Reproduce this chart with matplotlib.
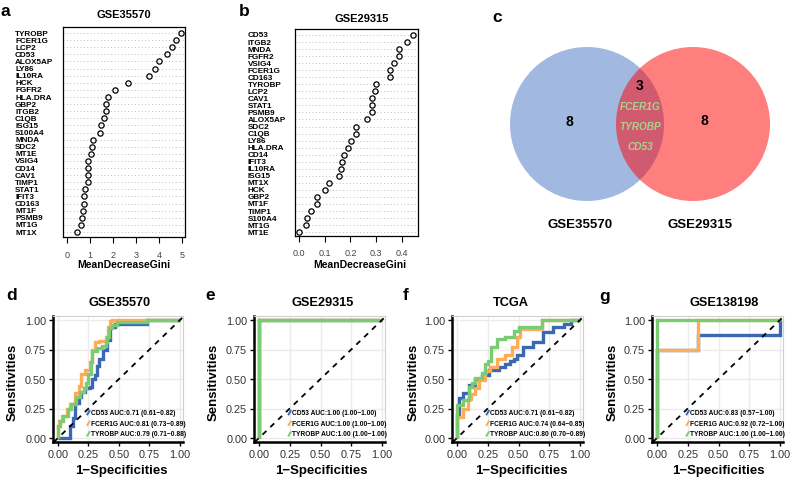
import matplotlib
matplotlib.use('Agg')
import matplotlib.pyplot as plt
from matplotlib.patches import Circle
from matplotlib.transforms import blended_transform_factory

plt.rcParams['font.family'] = ['Liberation Sans', 'DejaVu Sans']

# ---- data ----
genes_a = ['TYROBP', 'FCER1G', 'LCP2', 'CD53', 'ALOX5AP', 'LY86', 'IL10RA', 'HCK', 'FGFR2',
           'HLA.DRA', 'GBP2', 'ITGB2', 'C1QB', 'ISG15', 'S100A4', 'MNDA', 'SDC2', 'MT1E',
           'VSIG4', 'CD14', 'CAV1', 'TIMP1', 'STAT1', 'IFIT3', 'CD163', 'MT1F', 'PSMB9',
           'MT1G', 'MT1X']
gini_a = [4.97, 4.75, 4.56, 4.37, 4.01, 3.82, 3.58, 2.68, 2.10, 1.79, 1.70, 1.69, 1.62, 1.49,
          1.46, 1.13, 1.10, 1.04, 0.94, 0.94, 0.91, 0.91, 0.79, 0.77, 0.75, 0.72, 0.66, 0.64, 0.46]

genes_b = ['CD53', 'ITGB2', 'MNDA', 'FGFR2', 'VSIG4', 'FCER1G', 'CD163', 'TYROBP', 'LCP2',
           'CAV1', 'STAT1', 'PSMB9', 'ALOX5AP', 'SDC2', 'C1QB', 'LY86', 'HLA.DRA', 'CD14',
           'IFIT3', 'IL10RA', 'ISG15', 'MT1X', 'HCK', 'GBP2', 'MT1F', 'TIMP1', 'S100A4',
           'MT1G', 'MT1E']
gini_b = [0.445, 0.422, 0.389, 0.388, 0.371, 0.356, 0.353, 0.301, 0.294, 0.285, 0.285, 0.283,
          0.264, 0.220, 0.220, 0.202, 0.189, 0.176, 0.166, 0.162, 0.154, 0.115, 0.099, 0.070,
          0.068, 0.047, 0.031, 0.025, 0.0]

venn_left_only = 8
venn_right_only = 8
venn_shared = ['FCER1G', 'TYROBP', 'CD53']
venn_sets = ['GSE35570', 'GSE29315']

# ROC curves (1-specificity, sensitivity), step points
d_cd53_x = [0, 0.10, 0.125, 0.14, 0.17, 0.19, 0.22, 0.26, 0.28, 0.30, 0.32, 0.34, 0.37, 0.40, 0.43, 0.47, 0.73, 1.0]
d_cd53_y = [0, 0.10, 0.17, 0.30, 0.35, 0.39, 0.42, 0.43, 0.50, 0.53, 0.61, 0.67, 0.75, 0.83, 0.94, 0.97, 1.0, 1.0]
d_fcer_x = [0, 0, 0.01, 0.03, 0.07, 0.10, 0.14, 0.17, 0.19, 0.22, 0.26, 0.28, 0.30, 0.34, 0.39, 0.41, 0.43, 0.44, 1.0]
d_fcer_y = [0, 0.10, 0.14, 0.19, 0.25, 0.29, 0.38, 0.44, 0.54, 0.58, 0.64, 0.75, 0.81, 0.82, 0.86, 0.94, 0.99, 1.0, 1.0]
d_tyro_x = [0, 0, 0.02, 0.04, 0.085, 0.11, 0.15, 0.18, 0.21, 0.23, 0.25, 0.27, 0.28, 0.32, 0.36, 0.39, 0.40, 0.42, 0.44, 0.48, 0.73, 1.0]
d_tyro_y = [0, 0.10, 0.14, 0.19, 0.25, 0.29, 0.35, 0.39, 0.42, 0.47, 0.54, 0.64, 0.74, 0.76, 0.78, 0.81, 0.86, 0.93, 0.96, 0.98, 1.0, 1.0]

e_x = [0, 0, 1.0]
e_y = [0, 1.0, 1.0]

f_cd53_x = [0, 0, 0.02, 0.05, 0.095, 0.15, 0.20, 0.26, 0.34, 0.39, 0.43, 0.46, 0.49, 0.54, 0.62, 0.70, 0.78, 0.87, 0.93, 1.0]
f_cd53_y = [0, 0.20, 0.34, 0.38, 0.45, 0.50, 0.53, 0.58, 0.60, 0.63, 0.65, 0.67, 0.70, 0.77, 0.81, 0.90, 0.94, 0.97, 1.0, 1.0]
f_fcer_x = [0, 0, 0.05, 0.09, 0.11, 0.15, 0.18, 0.23, 0.27, 0.325, 0.39, 0.45, 0.49, 0.515, 0.69, 1.0]
f_fcer_y = [0, 0.18, 0.25, 0.33, 0.37, 0.42, 0.49, 0.57, 0.60, 0.67, 0.70, 0.77, 0.86, 0.92, 1.0, 1.0]
f_tyro_x = [0, 0, 0.05, 0.095, 0.12, 0.15, 0.20, 0.23, 0.25, 0.28, 0.325, 0.39, 0.46, 0.50, 0.69, 1.0]
f_tyro_y = [0, 0.28, 0.32, 0.43, 0.47, 0.51, 0.55, 0.63, 0.65, 0.77, 0.84, 0.86, 0.91, 0.94, 1.0, 1.0]

g_cd53_x = [0, 0, 0.333, 1.0, 1.0]
g_cd53_y = [0, 0.75, 0.875, 1.0, 1.0]
g_fcer_x = [0, 0, 0.333, 1.0]
g_fcer_y = [0, 0.75, 1.0, 1.0]
g_tyro_x = [0, 0, 1.0]
g_tyro_y = [0, 1.0, 1.0]

auc_d = ['CD53 AUC:0.71 (0.61\u22120.82)', 'FCER1G AUC:0.81 (0.73\u22120.89)', 'TYROBP AUC:0.79 (0.71\u22120.88)']
auc_e = ['CD53 AUC:1.00 (1.00\u22121.00)', 'FCER1G AUC:1.00 (1.00\u22121.00)', 'TYROBP AUC:1.00 (1.00\u22121.00)']
auc_f = ['CD53 AUC:0.71 (0.61\u22120.82)', 'FCER1G AUC:0.74 (0.64\u22120.85)', 'TYROBP AUC:0.80 (0.70\u22120.89)']
auc_g = ['CD53 AUC:0.83 (0.57\u22121.00)', 'FCER1G AUC:0.92 (0.72\u22121.00)', 'TYROBP AUC:1.00 (1.00\u22121.00)']

roc_colors = ['#3B67B3', '#FFAC58', '#7BCB72']

W, H = 793, 485
fig = plt.figure(figsize=(W / 100, H / 100), dpi=100)


def rect(l, t, r, b):
    return [l / W, 1 - b / H, (r - l) / W, (b - t) / H]


def ftext(x, y, s, **kw):
    fig.text(x / W, 1 - y / H, s, **kw)


def dotpanel(box, genes, vals, xlim, ylim, ticks, labx):
    ax = fig.add_axes(rect(*box))
    n = len(genes)
    rows = list(range(n, 0, -1))
    for y in rows:
        ax.axhline(y, color='#BDBDBD', ls=(0, (1, 2.5)), lw=0.7)
    ax.plot(vals, rows, 'o', mfc='none', mec='black', ms=3.8, mew=0.9)
    ax.set_xlim(xlim)
    ax.set_ylim(ylim)
    ax.set_yticks([])
    ax.set_xticks(ticks, [str(t) if isinstance(t, int) else f'{t:.1f}' for t in ticks])
    ax.tick_params(axis='x', direction='out', length=4, width=0.8, pad=5,
                   labelsize=6.5, labelcolor='#444444')
    for s in ax.spines.values():
        s.set_linewidth(0.9)
    trans = blended_transform_factory(fig.transFigure, ax.transData)
    for g, y in zip(genes, rows):
        ax.text(labx / W, y, g, transform=trans, ha='left', va='center',
                fontsize=5.9, fontweight='bold')
    return ax


def rocpanel(x0, x1, curves, labels):
    y0, y1 = 439, 321
    xlo, xhi, ylo, yhi = -0.04, 1.025, -0.035, 1.035
    sx = x1 - x0
    sy = y0 - y1
    l = x0 + xlo * sx
    r = x0 + xhi * sx
    t = y0 - yhi * sy
    b = y0 - ylo * sy
    ax = fig.add_axes(rect(l, t, r, b))
    ax.set_xlim(xlo, xhi)
    ax.set_ylim(ylo, yhi)
    ticks = [0, 0.25, 0.5, 0.75, 1.0]
    ax.set_xticks(ticks, [f'{v:.2f}' for v in ticks])
    ax.set_yticks(ticks, [f'{v:.2f}' for v in ticks])
    ax.grid(True, color='#EBEBEB', lw=1.0)
    ax.set_axisbelow(True)
    for (cx, cy), c in zip(curves, roc_colors):
        ax.plot(cx, cy, drawstyle='steps-post', color=c, lw=2.4,
                solid_joinstyle='miter', solid_capstyle='butt')
    ax.axline((0, 0), (1, 1), color='black', lw=1.3, ls=(0, (3, 3)))
    for side in ['top', 'right']:
        ax.spines[side].set_color('#D0D0D0')
        ax.spines[side].set_linewidth(0.8)
    for side in ['left', 'bottom']:
        ax.spines[side].set_color('black')
        ax.spines[side].set_linewidth(1.8)
    ax.tick_params(direction='out', length=3, width=1, color='black',
                   labelsize=7.8, labelcolor='#333333', pad=2)
    # legend
    for i, (lab, c) in enumerate(zip(labels, roc_colors)):
        yy = 0.215 - i * 0.09
        ax.plot([0.237, 0.262], [yy - 0.022, yy + 0.022], color=c, lw=1.4,
                solid_capstyle='butt')
        ax.text(0.272, yy, lab, ha='left', va='center', fontsize=4.8,
                fontweight='bold')
    return ax


# ---- panel a ----
dotpanel((63, 28, 185, 238), genes_a, gini_a, (-0.16, 5.13), (0.3, 29.85), [0, 1, 2, 3, 4, 5], 15)
ftext(124, 15, 'GSE35570', ha='center', va='center', fontsize=8, fontweight='bold')
ftext(124, 265, 'MeanDecreaseGini', ha='center', va='center', fontsize=7.5, fontweight='bold')
ftext(5, 12, 'a', ha='center', va='center', fontsize=12.5, fontweight='bold')

# ---- panel b ----
dotpanel((295, 30, 418, 237), genes_b, gini_b, (-0.017, 0.464), (0.45, 29.85),
         [0.0, 0.1, 0.2, 0.3, 0.4], 248)
ftext(362, 19, 'GSE29315', ha='center', va='center', fontsize=8, fontweight='bold')
ftext(360, 265, 'MeanDecreaseGini', ha='center', va='center', fontsize=7.5, fontweight='bold')
ftext(244, 12, 'b', ha='center', va='center', fontsize=12.5, fontweight='bold')

# ---- panel c (Venn) ----
axv = fig.add_axes(rect(480, 0, 793, 260))
axv.set_xlim(480, 793)
axv.set_ylim(260, 0)
axv.axis('off')
axv.add_patch(Circle((587, 125), 77, fc='#4472C4', alpha=0.5, ec='none'))
axv.add_patch(Circle((693, 125), 77, fc='#FF0000', alpha=0.5, ec='none'))
axv.text(569, 122, str(venn_left_only), ha='center', va='center', fontsize=10, fontweight='bold')
axv.text(704, 121, str(venn_right_only), ha='center', va='center', fontsize=10, fontweight='bold')
axv.text(640, 86, str(len(venn_shared)), ha='center', va='center', fontsize=10, fontweight='bold')
for i, g in enumerate(venn_shared):
    axv.text(640, 107 + i * 20, g, ha='center', va='center', fontsize=7.2,
             fontweight='bold', style='italic', color='#A9D38C')
axv.text(580, 225, venn_sets[0], ha='center', va='center', fontsize=9.5, fontweight='bold')
axv.text(700, 225, venn_sets[1], ha='center', va='center', fontsize=9.5, fontweight='bold')
ftext(497, 17, 'c', ha='center', va='center', fontsize=12.5, fontweight='bold')

# ---- ROC panels ----
rocpanel(58, 180, [(d_cd53_x, d_cd53_y), (d_fcer_x, d_fcer_y), (d_tyro_x, d_tyro_y)], auc_d)
rocpanel(259, 382, [(e_x, e_y), (e_x, e_y), (e_x, e_y)], auc_e)
rocpanel(457, 580, [(f_cd53_x, f_cd53_y), (f_fcer_x, f_fcer_y), (f_tyro_x, f_tyro_y)], auc_f)
rocpanel(657, 780, [(g_cd53_x, g_cd53_y), (g_fcer_x, g_fcer_y), (g_tyro_x, g_tyro_y)], auc_g)

roc_titles = ['GSE35570', 'GSE29315', 'TCGA', 'GSE138198']
title_x = [120, 323, 511, 724]
ylab_x = [13, 214, 414, 613]
xlab_x = [121, 321, 521, 718]
letters = ['d', 'e', 'f', 'g']
letter_x = [12, 210, 406, 605]
for i in range(4):
    ftext(title_x[i], 303, roc_titles[i], ha='center', va='center', fontsize=9.2, fontweight='bold')
    ftext(ylab_x[i], 382, 'Sensitivities', ha='center', va='center', rotation=90,
          fontsize=9.5, fontweight='bold')
    ftext(xlab_x[i], 471, '1\u2212Specificities', ha='center', va='center',
          fontsize=9.5, fontweight='bold')
    ftext(letter_x[i], 296, letters[i], ha='center', va='center', fontsize=12.5, fontweight='bold')

fig.savefig('out.png', dpi=100)
